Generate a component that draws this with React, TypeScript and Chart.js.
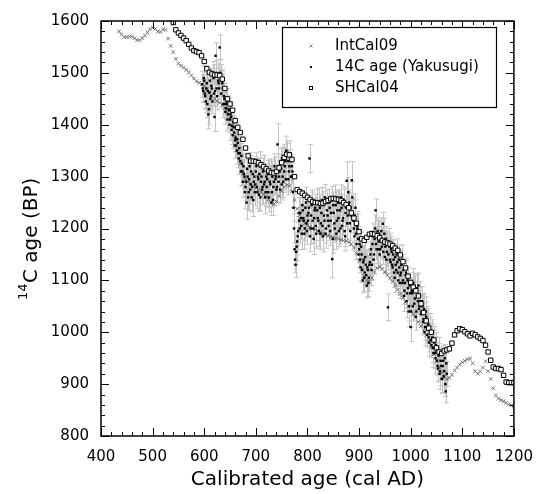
import React, { useEffect, useRef } from "react";
import { Chart, registerables } from "chart.js";
Chart.register(...registerables);

const FONT = '"DejaVu Sans", "Liberation Sans", Arial, sans-serif';

// regular sampling grids (calendar years AD) for each record
function yearGrid(start: number, end: number, step: number): number[] {
  const a: number[] = [];
  for (let v = start; v <= end; v += step) a.push(v);
  return a;
}

const xTickValues = [400, 500, 600, 700, 800, 900, 1000, 1100, 1200];
const yTickValues = [800, 900, 1000, 1100, 1200, 1300, 1400, 1500, 1600];

// IntCal09 (every 5 yr, 435..1200)
const intcalYears = yearGrid(435, 1200, 5);
const intcalAge = [
  1580, 1574, 1569, 1569, 1570, 1570, 1567, 1563, 1563, 1567,
  1572, 1578, 1584, 1587, 1585, 1580, 1579, 1584, 1583, 1566,
  1552, 1540, 1527, 1518, 1514, 1510, 1506, 1501, 1495, 1489,
  1484, 1481, 1478, 1474, 1468, 1462, 1456, 1450, 1446, 1442,
  1438, 1432, 1424, 1412, 1398, 1378, 1352, 1325, 1305, 1294,
  1290, 1286, 1282, 1278, 1275, 1270, 1266, 1262, 1256, 1250,
  1247, 1252, 1262, 1272, 1280, 1284, 1282, 1272, 1255, 1238,
  1226, 1217, 1210, 1206, 1203, 1200, 1198, 1196, 1193, 1190,
  1188, 1186, 1184, 1182, 1181, 1180, 1178, 1177, 1176, 1174,
  1170, 1163, 1152, 1138, 1122, 1108, 1100, 1098, 1105, 1116,
  1124, 1126, 1122, 1116, 1110, 1104, 1098, 1090, 1082, 1074,
  1066, 1058, 1050, 1042, 1035, 1028, 1020, 1012, 1004, 994,
  982, 970, 958, 945, 932, 922, 914, 910, 912, 918,
  926, 932, 938, 942, 945, 948, 949, 940, 925, 920,
  924, 932, 944, 925, 910, 892, 878, 872, 869, 867,
  864, 861, 859, 857,
];

// SHCal04 (every 5 yr, 540..1200)
const shcalYears = yearGrid(540, 1200, 5);
const shcalAge = [
  1597, 1583, 1577, 1572, 1567, 1562, 1555, 1548, 1543, 1541,
  1539, 1533, 1522, 1508, 1501, 1498, 1496, 1496, 1495, 1488,
  1470, 1450, 1440, 1428, 1408, 1395, 1385, 1372, 1355, 1340,
  1330, 1330, 1329, 1327, 1323, 1319, 1315, 1311, 1308, 1307,
  1310, 1317, 1327, 1337, 1343, 1342, 1333, 1300, 1275, 1271,
  1268, 1264, 1260, 1256, 1252, 1250, 1250, 1248, 1249, 1252,
  1254, 1257, 1258, 1257, 1256, 1254, 1250, 1246, 1240, 1230,
  1220, 1210, 1194, 1180, 1177, 1183, 1189, 1190, 1189, 1186,
  1182, 1177, 1174, 1172, 1170, 1167, 1162, 1158, 1149, 1136,
  1124, 1108, 1096, 1087, 1080, 1070, 1055, 1038, 1022, 1008,
  1000, 985, 970, 962, 959, 964, 966, 968, 979, 995,
  1003, 1007, 1005, 1001, 997, 993, 998, 995, 991, 988,
  984, 975, 962, 946, 933, 930, 930, 928, 917, 904,
  903, 903, 903,
];

// 14C age (Yakusugi): even years 596..1070
const yakYearsEven = yearGrid(596, 1070, 2);
const yakAgeEven = [
  1478, 1465, 1485, 1455, 1470, 1440, 1420, 1462, 1450, 1475, 1445, 1490, 1415,
  1533, 1470, 1495, 1480, 1549, 1490, 1485, 1470, 1455, 1440,
  1432, 1445, 1420, 1428, 1410, 1415, 1398, 1405, 1385, 1370,
  1360, 1372, 1345, 1355, 1330, 1340, 1310, 1320, 1300, 1280,
  1250, 1300, 1270, 1320, 1285, 1260, 1305, 1290, 1270, 1310,
  1280, 1300, 1265, 1320, 1290, 1275, 1310, 1285, 1260, 1300,
  1295, 1270, 1310, 1285, 1250, 1300, 1280, 1320, 1295, 1275,
  1362, 1290, 1310, 1330, 1285, 1300, 1340, 1320, 1295, 1345,
  1330, 1310, 1345, 1300, 1320, 1270, 1200, 1140, 1155, 1175,
  1195, 1215, 1230, 1205, 1245, 1220, 1190, 1240, 1210, 1225,
  1230, 1335, 1200, 1245, 1215, 1180, 1235, 1205, 1250, 1220,
  1195, 1240, 1210, 1255, 1185, 1225, 1260, 1200, 1235, 1215,
  1250, 1195, 1230, 1141, 1245, 1210, 1260, 1190, 1235, 1220,
  1250, 1200, 1240, 1215, 1255, 1195, 1230, 1292, 1225, 1245,
  1210, 1240, 1293, 1230, 1200, 1225, 1190, 1205, 1180, 1160,
  1140, 1165, 1120, 1135, 1105, 1145, 1110, 1125, 1095, 1130,
  1150, 1120, 1170, 1140, 1180, 1235, 1160, 1195, 1175, 1150,
  1185, 1165, 1209, 1170, 1145, 1180, 1155, 1048, 1175, 1140,
  1160, 1130, 1150, 1115, 1145, 1120, 1135, 1100, 1125, 1110,
  1130, 1095, 1120, 1080, 1110, 1060, 1100, 1040, 1090, 1010,
  1080, 1050, 1090, 1065, 1030, 1085, 1060, 1045, 1070, 1035,
  1060, 1020, 1045, 1010, 1030, 995, 1015, 980, 1000, 975,
  990, 960, 980, 950, 965, 935, 955, 920, 945, 910,
  935, 915, 950, 886, 920,
];
const yakErrEven = [
  25, 22, 28, 24, 30, 26, 28, 22, 25, 30, 24, 26, 28,
  25, 28, 24, 30, 24, 26, 22, 28, 25, 24,
  22, 25, 28, 24, 26, 22, 25, 24, 28, 22,
  25, 24, 28, 22, 26, 24, 28, 25, 30, 26,
  32, 28, 35, 26, 30, 28, 24, 30, 26, 28,
  30, 26, 32, 28, 24, 30, 26, 28, 32, 25,
  26, 30, 24, 28, 25, 30, 26, 24, 28, 30,
  40, 26, 28, 24, 30, 26, 22, 28, 25, 24,
  22, 28, 24, 26, 22, 30, 28, 25, 24, 26,
  28, 24, 30, 26, 28, 24, 30, 26, 25, 28,
  26, 27, 30, 25, 28, 30, 24, 28, 26, 25,
  30, 26, 28, 24, 30, 26, 25, 28, 24, 30,
  26, 28, 24, 36, 25, 28, 24, 30, 26, 28,
  24, 30, 26, 28, 25, 30, 26, 36, 28, 24,
  30, 26, 36, 28, 24, 30, 26, 28, 24, 26,
  25, 28, 24, 30, 26, 28, 24, 30, 26, 28,
  24, 30, 26, 28, 24, 22, 28, 25, 30, 26,
  28, 24, 22, 26, 30, 24, 28, 26, 25, 28,
  24, 30, 26, 28, 24, 30, 26, 28, 32, 26,
  28, 25, 30, 26, 28, 32, 26, 30, 24, 28,
  25, 28, 24, 30, 26, 28, 24, 26, 28, 25,
  28, 24, 30, 26, 28, 24, 30, 26, 28, 24,
  26, 28, 24, 30, 26, 28, 24, 30, 26, 28,
  24, 28, 26, 22, 24,
];

// 14C age (Yakusugi): odd years 597..1069
const yakYearsOdd = yearGrid(597, 1069, 2);
const yakAgeOdd = [
  1470, 1490, 1460, 1445, 1480, 1465, 1430, 1485, 1455, 1470, 1500, 1460,
  1465, 1500, 1455, 1485, 1470, 1500, 1460, 1480, 1440, 1450,
  1425, 1440, 1410, 1430, 1400, 1420, 1390, 1380, 1395, 1360,
  1375, 1350, 1365, 1335, 1345, 1310, 1325, 1290, 1305, 1270,
  1290, 1315, 1260, 1295, 1275, 1310, 1280, 1255, 1300, 1285,
  1320, 1270, 1295, 1305, 1260, 1300, 1280, 1315, 1290, 1270,
  1280, 1305, 1260, 1290, 1310, 1270, 1255, 1290, 1310, 1300,
  1280, 1320, 1300, 1275, 1315, 1335, 1290, 1310, 1330, 1350,
  1340, 1295, 1320, 1330, 1300, 1310, 1240, 1160, 1130, 1165,
  1185, 1230, 1200, 1220, 1190, 1235, 1215, 1200, 1250, 1195,
  1215, 1240, 1185, 1225, 1250, 1200, 1220, 1240, 1190, 1235,
  1215, 1250, 1190, 1230, 1205, 1245, 1215, 1190, 1250, 1225,
  1205, 1240, 1215, 1255, 1180, 1230, 1200, 1245, 1215, 1250,
  1195, 1235, 1260, 1205, 1220, 1250, 1185, 1240, 1210, 1270,
  1250, 1195, 1225, 1260, 1215, 1185, 1240, 1170, 1200, 1150,
  1170, 1125, 1150, 1100, 1140, 1115, 1130, 1090, 1120, 1105,
  1135, 1160, 1130, 1185, 1150, 1200, 1170, 1185, 1160, 1190,
  1160, 1195, 1175, 1155, 1190, 1165, 1140, 1170, 1150, 1165,
  1135, 1155, 1125, 1140, 1105, 1130, 1150, 1115, 1140, 1095,
  1115, 1140, 1100, 1070, 1095, 1115, 1075, 1085, 1050, 1075,
  1040, 1075, 1095, 1055, 1080, 1040, 1070, 1090, 1050, 1060,
  1040, 1050, 1025, 1000, 1040, 1020, 1005, 990, 1010, 985,
  1000, 970, 985, 960, 975, 945, 930, 960, 925, 935,
  910, 945, 925, 900, 940,
];
const yakErrOdd = [
  26, 24, 30, 22, 28, 25, 30, 24, 26, 28, 22, 25,
  28, 24, 26, 30, 22, 26, 28, 24, 26, 30,
  24, 28, 22, 26, 30, 24, 28, 26, 22, 25,
  28, 26, 24, 30, 25, 28, 26, 30, 28, 32,
  28, 30, 26, 34, 28, 30, 26, 32, 28, 30,
  26, 32, 28, 30, 26, 28, 32, 26, 30, 28,
  30, 26, 28, 32, 24, 28, 30, 26, 28, 24,
  28, 24, 30, 26, 28, 22, 30, 24, 26, 28,
  24, 30, 26, 22, 28, 24, 26, 30, 25, 28,
  26, 30, 28, 24, 30, 26, 28, 24, 30, 26,
  28, 24, 30, 26, 24, 28, 30, 26, 28, 24,
  26, 28, 30, 24, 28, 26, 30, 28, 24, 26,
  28, 24, 30, 26, 28, 32, 26, 28, 30, 24,
  30, 26, 24, 28, 30, 26, 28, 24, 30, 28,
  24, 28, 26, 30, 24, 28, 26, 30, 28, 26,
  28, 26, 30, 24, 28, 26, 30, 24, 28, 26,
  26, 28, 30, 24, 28, 26, 30, 24, 28, 26,
  30, 26, 28, 24, 30, 26, 28, 24, 30, 26,
  28, 24, 30, 26, 28, 24, 30, 26, 28, 30,
  26, 28, 24, 30, 26, 28, 30, 24, 28, 26,
  30, 26, 28, 24, 30, 26, 28, 24, 30, 26,
  28, 24, 30, 26, 28, 30, 24, 28, 26, 30,
  24, 28, 26, 30, 24, 28, 26, 30, 28, 24,
  26, 30, 28, 24, 26,
];

const legendLabels = ["IntCal09", "14C age (Yakusugi)", "SHCal04"];
const xTitle = "Calibrated age (cal AD)";
const yTitleSup = "14";
const yTitleMain = "C age (BP)";

type Rec = { year: number; age: number; err: number };
function yakRecords(): Rec[] {
  const out: Rec[] = [];
  const add = (ys: number[], as: number[], es: number[]) => {
    const n = Math.min(ys.length, as.length, es.length);
    for (let i = 0; i < n; i++) out.push({ year: ys[i], age: as[i], err: es[i] });
  };
  add(yakYearsEven, yakAgeEven, yakErrEven);
  add(yakYearsOdd, yakAgeOdd, yakErrOdd);
  return out;
}
const yakData = yakRecords();

function pts(xs: number[], ys: number[]) {
  const n = Math.min(xs.length, ys.length);
  const out: { x: number; y: number }[] = [];
  for (let i = 0; i < n; i++) out.push({ x: xs[i], y: ys[i] });
  return out;
}

const errorBarPlugin = {
  id: "errorBars",
  beforeDatasetsDraw(chart: any) {
    const { ctx, chartArea, scales } = chart;
    const xs = scales.x, ys = scales.y;
    ctx.save();
    ctx.beginPath();
    ctx.rect(chartArea.left, chartArea.top, chartArea.right - chartArea.left, chartArea.bottom - chartArea.top);
    ctx.clip();
    ctx.strokeStyle = "#c4c4c4";
    ctx.lineWidth = 1;
    ctx.beginPath();
    for (const r of yakData) {
      const px = Math.round(xs.getPixelForValue(r.year)) + 0.5;
      const t = ys.getPixelForValue(r.age + r.err);
      const b = ys.getPixelForValue(r.age - r.err);
      ctx.moveTo(px, t); ctx.lineTo(px, b);
      ctx.moveTo(px - 2.5, t); ctx.lineTo(px + 2.5, t);
      ctx.moveTo(px - 2.5, b); ctx.lineTo(px + 2.5, b);
    }
    ctx.stroke();
    ctx.restore();
  },
};

const framePlugin = {
  id: "frameTicks",
  afterDatasetsDraw(chart: any) {
    const { ctx, chartArea, scales } = chart;
    const { left, right, top, bottom } = chartArea;
    const xs = scales.x, ys = scales.y;
    ctx.save();
    ctx.strokeStyle = "#000";
    ctx.lineWidth = 1;
    ctx.beginPath();
    for (let v = 400; v <= 1200; v += 20) {
      const px = Math.round(xs.getPixelForValue(v)) + 0.5;
      const len = v % 100 === 0 ? 8 : 4;
      ctx.moveTo(px, bottom); ctx.lineTo(px, bottom - len);
      ctx.moveTo(px, top); ctx.lineTo(px, top + len);
    }
    for (let v = 800; v <= 1600; v += 20) {
      const py = Math.round(ys.getPixelForValue(v)) + 0.5;
      const len = v % 100 === 0 ? 8 : 4;
      ctx.moveTo(left, py); ctx.lineTo(left + len, py);
      ctx.moveTo(right, py); ctx.lineTo(right - len, py);
    }
    ctx.stroke();
    ctx.lineWidth = 1.5;
    ctx.strokeRect(left, top, right - left, bottom - top);

    // legend box
    const lx = 282, ly = 27, lw = 214, lh = 80;
    ctx.fillStyle = "#fff";
    ctx.fillRect(lx, ly, lw, lh);
    ctx.lineWidth = 1.2;
    ctx.strokeRect(lx + 0.5, ly + 0.5, lw, lh);
    const rows = [46, 67, 88];
    const mx = 311;
    ctx.strokeStyle = "#777";
    ctx.lineWidth = 0.8;
    ctx.beginPath();
    ctx.moveTo(mx - 1.5, rows[0] - 1.5); ctx.lineTo(mx + 1.5, rows[0] + 1.5);
    ctx.moveTo(mx - 1.5, rows[0] + 1.5); ctx.lineTo(mx + 1.5, rows[0] - 1.5);
    ctx.stroke();
    ctx.fillStyle = "#000";
    ctx.fillRect(mx - 1, rows[1] - 1, 2, 2);
    ctx.strokeStyle = "#000";
    ctx.lineWidth = 1;
    ctx.strokeRect(mx - 1.5, rows[2] - 1.5, 3, 3);
    ctx.fillStyle = "#000";
    ctx.font = `15px ${FONT}`;
    ctx.textBaseline = "middle";
    ctx.textAlign = "left";
    legendLabels.forEach((t, i) => ctx.fillText(t, 335, rows[i]));

    // axis titles
    ctx.textBaseline = "alphabetic";
    ctx.textAlign = "center";
    ctx.font = `20px ${FONT}`;
    ctx.fillText(xTitle, (left + right) / 2, 485);

    ctx.save();
    ctx.translate(37, 300);
    ctx.rotate(-Math.PI / 2);
    ctx.textAlign = "left";
    ctx.font = `13px ${FONT}`;
    ctx.fillText(yTitleSup, 0, -10);
    const w = ctx.measureText(yTitleSup).width;
    ctx.font = `20px ${FONT}`;
    ctx.fillText(yTitleMain, w + 0.5, 0);
    ctx.restore();
    ctx.restore();
  },
};

export default function App() {
  const ref = useRef<HTMLCanvasElement | null>(null);
  useEffect(() => {
    if (!ref.current) return;
    const chart = new Chart(ref.current, {
      type: "scatter",
      data: {
        datasets: [
          {
            label: legendLabels[0],
            data: pts(intcalYears, intcalAge),
            pointStyle: "crossRot",
            pointRadius: 2.6,
            borderColor: "#555",
            backgroundColor: "#555",
            borderWidth: 0.8,
            order: 3,
          },
          {
            label: legendLabels[1],
            data: yakData.map((r) => ({ x: r.year, y: r.age })),
            pointStyle: "rect",
            pointRadius: 1.7,
            borderWidth: 0,
            backgroundColor: "#000",
            borderColor: "#000",
            order: 2,
          },
          {
            label: legendLabels[2],
            data: pts(shcalYears, shcalAge),
            pointStyle: "rect",
            pointRadius: 3.1,
            borderWidth: 1,
            borderColor: "#000",
            backgroundColor: "#fff",
            order: 1,
          },
        ],
      },
      options: {
        animation: false,
        responsive: true,
        maintainAspectRatio: false,
        devicePixelRatio: 1,
        layout: { padding: { top: 15, right: 24, left: 0, bottom: 0 } },
        plugins: { legend: { display: false }, tooltip: { enabled: false } },
        events: [],
        scales: {
          x: {
            type: "linear",
            min: 400,
            max: 1200,
            grid: { display: false, drawTicks: false },
            border: { display: false },
            ticks: {
              color: "#000",
              font: { family: FONT, size: 15 },
              padding: 12,
              maxRotation: 0,
              callback: (v: any) => String(v),
            },
            afterBuildTicks: (s: any) => { s.ticks = xTickValues.map((v) => ({ value: v })); },
            afterFit: (s: any) => { s.height = 58; },
          },
          y: {
            type: "linear",
            min: 800,
            max: 1600,
            grid: { display: false, drawTicks: false },
            border: { display: false },
            ticks: {
              color: "#000",
              font: { family: FONT, size: 15 },
              padding: 12,
              callback: (v: any) => String(v),
            },
            afterBuildTicks: (s: any) => { s.ticks = yTickValues.map((v) => ({ value: v })); },
            afterFit: (s: any) => { s.width = 101; },
          },
        },
      },
      plugins: [errorBarPlugin, framePlugin],
    });
    return () => chart.destroy();
  }, []);
  return (
    <div style={{ position: "absolute", left: 0, top: 0, width: 545, height: 494 }}>
      <canvas ref={ref} />
    </div>
  );
}
